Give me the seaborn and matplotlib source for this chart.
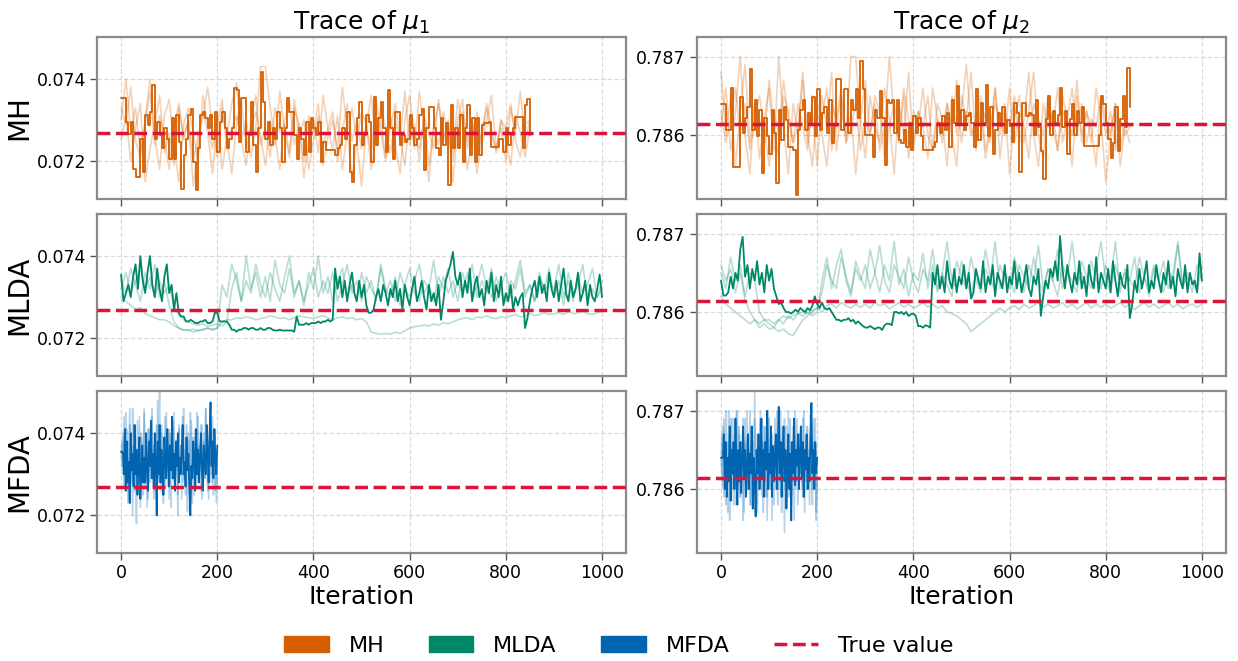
import numpy as np
import matplotlib
matplotlib.use("Agg")
import matplotlib.pyplot as plt
import seaborn as sns
from matplotlib.patches import Patch
from matplotlib.lines import Line2D

# ---------------- data (values in units of 1e-5) ----------------
UNIT = 1e-5
TRUE_MU1 = 7269
TRUE_MU2 = 78614

MH_STRIDE_MAIN, MH_STRIDE_FAINT = 5, 10
MLDA_STRIDE_MAIN, MLDA_STRIDE_FAINT = 5, 10
MFDA_STRIDE = 2

MH_MU1_MAIN = [
    7354, 7354, 7296, 7267, 7296, 7182, 7162, 7162, 7255, 7174, 7312, 7288, 7320, 7385, 7255, 7296, 7263, 7231, 7280, 7255,
    7206, 7304, 7206, 7312, 7247, 7133, 7215, 7255, 7312, 7328, 7198, 7129, 7231, 7312, 7320, 7304, 7280, 7312, 7255, 7320,
    7223, 7296, 7320, 7280, 7231, 7255, 7280, 7377, 7373, 7247, 7353, 7353, 7223, 7263, 7345, 7239, 7174, 7280, 7418, 7345,
    7255, 7296, 7239, 7280, 7255, 7320, 7280, 7198, 7280, 7353, 7320, 7320, 7263, 7206, 7280, 7255, 7215, 7296, 7223, 7304,
    7280, 7263, 7296, 7198, 7247, 7227, 7227, 7227, 7227, 7215, 7231, 7239, 7280, 7255, 7320, 7174, 7150, 7239, 7304, 7345,
    7239, 7263, 7312, 7296,
    7198, 7357, 7239, 7304, 7345, 7280, 7223, 7373, 7280, 7206, 7320, 7320, 7239, 7263, 7247, 7255, 7312, 7280, 7239, 7255,
    7312, 7328, 7178, 7280, 7333, 7333, 7280, 7231, 7215, 7304, 7239, 7292, 7141, 7337, 7231, 7280, 7231, 7312, 7198, 7280,
    7337, 7215, 7304, 7198, 7304, 7215, 7288, 7292, 7292, 7296, 7235, 7235, 7235, 7255, 7255, 7223, 7280, 7239, 7263, 7280,
    7308, 7308, 7308, 7231, 7337, 7351, 7263,
]
MH_MU1_FAINT_A = [
    7330, 7290, 7380, 7250, 7210, 7300, 7400, 7260, 7180, 7310, 7350, 7240, 7150, 7290, 7330, 7270, 7200, 7360, 7290, 7230,
    7310, 7180, 7260, 7340, 7390, 7250, 7300, 7210, 7280, 7430, 7430, 7330, 7260, 7180, 7300, 7350, 7240, 7290, 7200, 7310,
    7270, 7340, 7190, 7260, 7300, 7230, 7380, 7280, 7160, 7250, 7320, 7290, 7220, 7350, 7270, 7200, 7310, 7240, 7170, 7300,
    7360, 7260, 7230, 7310, 7190, 7280, 7340, 7250, 7300, 7220, 7350, 7290, 7180, 7260, 7320, 7240, 7300, 7360, 7230, 7280,
    7200, 7330, 7270, 7370, 7250, 7300,
]
MH_MU1_FAINT_B = [
    7250, 7310, 7200, 7280, 7340, 7150, 7230, 7290, 7360, 7220, 7270, 7190, 7330, 7260, 7300, 7140, 7240, 7310, 7380, 7280,
    7210, 7330, 7250, 7170, 7290, 7350, 7230, 7280, 7320, 7260, 7190, 7300, 7240, 7370, 7270, 7210, 7330, 7290, 7160, 7250,
    7300, 7220, 7360, 7280, 7230, 7310, 7180, 7270, 7330, 7250, 7140, 7290, 7360, 7240, 7300, 7210, 7280, 7340, 7260, 7190,
    7310, 7230, 7370, 7270, 7150, 7290, 7240, 7320, 7270, 7200, 7300, 7350, 7230, 7290, 7170, 7260, 7340, 7280, 7220, 7300,
    7250, 7190, 7310, 7270, 7210, 7280,
]
MH_MU1_FAINT_C = [
    7300, 7400, 7270, 7330, 7220, 7290, 7370, 7240, 7310, 7260, 7180, 7280, 7340, 7250, 7300, 7200, 7260, 7320, 7270, 7170,
    7290, 7350, 7230, 7280, 7310, 7250, 7190, 7300, 7360, 7240, 7280, 7210, 7330, 7270, 7290, 7220, 7350, 7260, 7300, 7180,
    7250, 7310, 7240, 7280, 7320, 7200, 7270, 7340, 7250, 7300, 7230, 7290, 7180, 7260, 7330, 7280, 7220, 7300, 7250, 7370,
    7240, 7290, 7200, 7310, 7270, 7230, 7350, 7260, 7290, 7150, 7280, 7320, 7250, 7300, 7210, 7270, 7330, 7260, 7230, 7300,
    7280, 7340, 7250, 7210, 7290, 7300,
]

MH_MU2_MAIN = [
    78640, 78640, 78606, 78606, 78660, 78559, 78559, 78559, 78649, 78602, 78621, 78636, 78684, 78606, 78645, 78598, 78632, 78551, 78621, 78598,
    78576, 78632, 78602, 78538, 78632, 78594, 78636, 78619, 78585, 78585, 78581, 78523, 78606, 78632, 78645, 78606, 78628, 78615, 78649, 78598,
    78658, 78606, 78628, 78636, 78602, 78645, 78589, 78611, 78672, 78672, 78606, 78658, 78658, 78602, 78645, 78632, 78658, 78621, 78694, 78658,
    78600, 78600, 78600, 78572, 78632, 78621, 78656, 78621, 78561, 78645, 78641, 78645, 78602, 78645, 78594, 78589, 78606, 78585, 78615, 78581,
    78624, 78602, 78621, 78598, 78581, 78581, 78581, 78581, 78585, 78591, 78615, 78602, 78624, 78606, 78628, 78585, 78645, 78615, 78662, 78615,
    78632, 78606, 78624, 78628, 78615, 78585, 78658, 78594, 78641, 78615, 78664, 78598, 78636, 78576, 78606, 78628, 78611, 78636, 78602, 78619,
    78611, 78591, 78641, 78628, 78553, 78641, 78641, 78624, 78628, 78625, 78600, 78645, 78610, 78580, 78544, 78620, 78650, 78600, 78630, 78615,
    78625, 78660, 78610, 78630, 78576, 78620, 78640, 78600, 78630, 78615, 78635, 78586, 78586, 78586, 78586, 78586, 78586, 78600, 78650, 78640,
    78615, 78595, 78570, 78590, 78635, 78580, 78620, 78650, 78610, 78685, 78635,
]
MH_MU2_FAINT_A = [
    78680, 78600, 78650, 78560, 78630, 78690, 78590, 78640, 78570, 78620, 78660, 78580, 78700, 78610, 78550, 78640, 78600, 78670, 78590, 78630,
    78560, 78650, 78610, 78680, 78580, 78630, 78600, 78700, 78700, 78620, 78570, 78650, 78610, 78590, 78660, 78620, 78550, 78640, 78600, 78680,
    78580, 78630, 78610, 78570, 78660, 78620, 78590, 78640, 78600, 78560, 78650, 78620, 78680, 78590, 78630, 78570, 78610, 78660, 78600, 78640,
    78550, 78620, 78650, 78590, 78630, 78680, 78600, 78570, 78640, 78610, 78660, 78590, 78620, 78560, 78650, 78600, 78630, 78590, 78660, 78620,
    78540, 78600, 78640, 78560, 78610, 78590,
]
MH_MU2_FAINT_B = [
    78610, 78660, 78580, 78630, 78700, 78600, 78550, 78640, 78620, 78590, 78670, 78610, 78570, 78650, 78630, 78590, 78610, 78680, 78600, 78560,
    78640, 78620, 78660, 78580, 78610, 78650, 78590, 78630, 78550, 78620, 78670, 78600, 78640, 78580, 78610, 78700, 78620, 78590, 78650, 78570,
    78630, 78610, 78660, 78600, 78580, 78640, 78620, 78560, 78650, 78600, 78630, 78690, 78610, 78580, 78640, 78620, 78590, 78660, 78570, 78630,
    78610, 78650, 78590, 78620, 78680, 78600, 78560, 78640, 78610, 78630, 78580, 78650, 78620, 78600, 78670, 78590, 78630, 78610, 78560, 78650,
    78620, 78600, 78640, 78580, 78620, 78610,
]
MH_MU2_FAINT_C = [
    78630, 78590, 78620, 78660, 78600, 78640, 78580, 78620, 78650, 78610, 78560, 78630, 78600, 78670, 78620, 78590, 78640, 78610, 78580, 78650,
    78630, 78600, 78560, 78640, 78620, 78660, 78590, 78610, 78640, 78580, 78620, 78600, 78650, 78630, 78570, 78610, 78640, 78600, 78660, 78620,
    78590, 78630, 78610, 78650, 78580, 78620, 78600, 78640, 78610, 78670, 78590, 78630, 78600, 78620, 78650, 78580, 78610, 78640, 78620, 78600,
    78660, 78590, 78630, 78610, 78570, 78640, 78620, 78600, 78650, 78610, 78580, 78630, 78620, 78660, 78600, 78640, 78590, 78620, 78610, 78650,
    78600, 78630, 78580, 78620, 78600, 78610,
]

MLDA_MU1_MAIN = [
    7355, 7290, 7310, 7330, 7300, 7350, 7380, 7320, 7400, 7340, 7310, 7360, 7400, 7330, 7300, 7370, 7320, 7290, 7350, 7380,
    7310, 7330, 7270, 7310, 7262, 7253, 7253, 7241, 7241, 7245, 7241, 7237, 7237, 7241, 7241, 7245, 7237, 7237, 7241, 7262,
    7262, 7241, 7241, 7241, 7241, 7233, 7221, 7221, 7216, 7221, 7221, 7225, 7225, 7221, 7225, 7225, 7221, 7221, 7225, 7221,
    7221, 7225, 7225, 7221, 7219, 7219, 7221, 7219, 7219, 7219, 7219, 7219, 7216, 7253, 7233, 7233, 7233, 7237, 7233, 7237,
    7237, 7237, 7241, 7237, 7241, 7241, 7245, 7241, 7245, 7370, 7320, 7350, 7300, 7340, 7290, 7330, 7360, 7310, 7290, 7340,
    7300, 7330, 7280, 7262, 7262, 7270, 7300, 7320, 7290, 7330, 7310, 7280, 7320, 7300, 7340, 7290, 7320, 7270, 7330, 7300,
    7280, 7320, 7350, 7290, 7310, 7340, 7300, 7270, 7330, 7290, 7310, 7280, 7330, 7245, 7290, 7340, 7360, 7380, 7410, 7350,
    7330, 7360, 7300, 7340, 7310, 7370, 7290, 7330, 7350, 7300, 7320, 7280, 7340, 7310, 7360, 7290, 7330, 7300, 7350, 7280,
    7310, 7290, 7330, 7270, 7300, 7280, 7300, 7310, 7225, 7250, 7290, 7320, 7340, 7300, 7350, 7310, 7330, 7290, 7360, 7320,
    7300, 7340, 7290, 7330, 7370, 7310, 7290, 7340, 7300, 7320, 7360, 7290, 7310, 7340, 7280, 7330, 7300, 7290, 7320, 7355, 7300,
]
MLDA_MU1_FAINT_A = [
    7340, 7310, 7370, 7330, 7290, 7360, 7320, 7380, 7300, 7340,
    7280, 7240, 7225, 7220, 7220, 7215, 7220, 7220, 7225, 7220,
    7225, 7330, 7300, 7380, 7340, 7290, 7400, 7320, 7360, 7300,
    7350, 7290, 7390, 7330, 7310, 7370, 7300, 7340, 7280, 7360,
    7320, 7400, 7310, 7350, 7290, 7340, 7370, 7300, 7330, 7290,
    7360, 7310, 7340, 7290, 7380, 7320, 7300, 7350, 7280, 7330,
    7370, 7310, 7290, 7340, 7320, 7390, 7300, 7350, 7310, 7340,
    7290, 7360, 7320, 7380, 7300, 7340, 7310, 7370, 7290, 7330,
    7360, 7300, 7340, 7390, 7310, 7330, 7290, 7350, 7320, 7370,
    7300, 7340, 7280, 7360, 7310, 7330, 7380, 7290, 7320, 7300, 7340,
]
MLDA_MU1_FAINT_B = [
    7300, 7290, 7280, 7270, 7275, 7260, 7255, 7250, 7245, 7245,
    7240, 7230, 7225, 7220, 7220, 7222, 7218, 7222, 7225, 7222,
    7225, 7240, 7245, 7245, 7250, 7248, 7252, 7250, 7245, 7248,
    7250, 7255, 7252, 7248, 7250, 7245, 7250, 7255, 7252, 7250,
    7248, 7252, 7255, 7250, 7245, 7250, 7252, 7248, 7250, 7245,
    7248, 7240, 7215, 7212, 7210, 7212, 7210, 7215, 7212, 7218,
    7225, 7228, 7230, 7232, 7230, 7235, 7232, 7238, 7235, 7240,
    7245, 7248, 7250, 7245, 7252, 7250, 7255, 7250, 7248, 7252,
    7250, 7255, 7258, 7252, 7255, 7260, 7255, 7258, 7262, 7258,
    7260, 7262, 7258, 7265, 7260, 7262, 7265, 7260, 7258, 7262, 7265,
]
MLDA_MU1_FAINT_C = [
    7320, 7360, 7310, 7340, 7370, 7320, 7350, 7300, 7340, 7310,
    7330, 7280, 7255, 7245, 7240, 7235, 7232, 7235, 7230, 7232,
    7235, 7230, 7240, 7320, 7360, 7290, 7340, 7310, 7380, 7330,
    7300, 7360, 7320, 7290, 7350, 7400, 7310, 7340, 7290, 7330,
    7370, 7300, 7340, 7310, 7360, 7290, 7330, 7380, 7310, 7340,
    7290, 7350, 7320, 7300, 7370, 7310, 7340, 7290, 7360, 7320,
    7300, 7340, 7380, 7310, 7330, 7290, 7350, 7320, 7370, 7300,
    7340, 7310, 7360, 7290, 7330, 7380, 7320, 7300, 7350, 7310,
    7290, 7340, 7320, 7370, 7300, 7330, 7290, 7360, 7310, 7340,
    7320, 7380, 7300, 7340, 7290, 7350, 7310, 7330, 7370, 7300, 7320,
]

MLDA_MU2_MAIN = [
    78640, 78621, 78621, 78625, 78645, 78630, 78650, 78640, 78680, 78696, 78645, 78660, 78630, 78655, 78640, 78665, 78635, 78650, 78625, 78660,
    78640, 78655, 78630, 78620, 78610, 78612, 78605, 78600, 78600, 78598, 78600, 78603, 78600, 78605, 78602, 78600, 78605, 78602, 78608, 78620,
    78610, 78605, 78612, 78605, 78603, 78605, 78600, 78595, 78590, 78590, 78588, 78590, 78590, 78592, 78588, 78590, 78585, 78588, 78585, 78582,
    78580, 78580, 78582, 78580, 78578, 78580, 78580, 78577, 78583, 78585, 78585, 78583, 78600, 78600, 78598, 78600, 78597, 78600, 78595, 78597,
    78598, 78595, 78582, 78582, 78580, 78583, 78582, 78580, 78650, 78635, 78660, 78630, 78645, 78625, 78665, 78640, 78630, 78655, 78625, 78645,
    78635, 78660, 78630, 78650, 78617, 78625, 78655, 78640, 78630, 78665, 78625, 78645, 78635, 78660, 78620, 78650, 78640, 78630, 78660, 78625,
    78645, 78635, 78665, 78630, 78650, 78625, 78640, 78660, 78630, 78620, 78645, 78635, 78655, 78595, 78620, 78640, 78630, 78655, 78645, 78665,
    78640, 78697, 78655, 78630, 78660, 78640, 78625, 78650, 78635, 78665, 78630, 78645, 78620, 78660, 78640, 78630, 78670, 78625, 78650, 78640,
    78630, 78655, 78625, 78665, 78640, 78620, 78650, 78635, 78630, 78660, 78592, 78610, 78640, 78625, 78655, 78630, 78645, 78665, 78625, 78640,
    78630, 78660, 78640, 78625, 78650, 78635, 78665, 78630, 78645, 78620, 78655, 78640, 78630, 78660, 78625, 78650, 78635, 78640, 78625, 78675, 78640,
]
MLDA_MU2_FAINT_A = [
    78650, 78630, 78670, 78640, 78660, 78620, 78650, 78640, 78600, 78590,
    78585, 78580, 78590, 78585, 78595, 78590, 78598, 78595, 78600, 78595,
    78600, 78640, 78670, 78630, 78660, 78680, 78640, 78620, 78665, 78645,
    78630, 78680, 78650, 78625, 78660, 78640, 78690, 78635, 78655, 78620,
    78650, 78640, 78675, 78630, 78660, 78625, 78650, 78690, 78640, 78630,
    78665, 78640, 78620, 78655, 78635, 78680, 78645, 78625, 78660, 78640,
    78630, 78670, 78645, 78625, 78660, 78640, 78685, 78630, 78655, 78640,
    78620, 78660, 78645, 78690, 78635, 78650, 78625, 78665, 78640, 78630,
    78660, 78640, 78690, 78625, 78655, 78640, 78630, 78670, 78645, 78620,
    78655, 78640, 78665, 78630, 78650, 78690, 78635, 78645, 78625, 78660, 78640,
]
MLDA_MU2_FAINT_B = [
    78620, 78610, 78605, 78600, 78595, 78590, 78585, 78590, 78580, 78585,
    78578, 78580, 78575, 78578, 78572, 78570, 78580, 78590, 78595, 78600,
    78605, 78600, 78608, 78610, 78605, 78612, 78608, 78605, 78610, 78606,
    78610, 78605, 78612, 78608, 78610, 78604, 78608, 78612, 78606, 78610,
    78605, 78608, 78612, 78606, 78610, 78605, 78608, 78600, 78598, 78595,
    78590, 78585, 78575, 78580, 78585, 78590, 78595, 78600, 78605, 78600,
    78605, 78608, 78603, 78610, 78605, 78608, 78612, 78606, 78610, 78605,
    78608, 78612, 78606, 78610, 78604, 78608, 78612, 78605, 78610, 78606,
    78610, 78605, 78608, 78612, 78606, 78610, 78603, 78608, 78612, 78606,
    78610, 78605, 78608, 78612, 78606, 78610, 78604, 78608, 78610, 78606, 78610,
]
MLDA_MU2_FAINT_C = [
    78660, 78640, 78655, 78625, 78650, 78615, 78600, 78590, 78585, 78590,
    78590, 78585, 78590, 78595, 78592, 78596, 78598, 78600, 78598, 78602,
    78605, 78625, 78660, 78640, 78630, 78670, 78645, 78625, 78655, 78640,
    78660, 78630, 78650, 78685, 78640, 78625, 78660, 78645, 78630, 78670,
    78640, 78625, 78655, 78640, 78680, 78630, 78650, 78635, 78620, 78665,
    78645, 78630, 78670, 78640, 78625, 78655, 78640, 78690, 78630, 78650,
    78640, 78625, 78660, 78645, 78630, 78670, 78640, 78625, 78655, 78640,
    78680, 78630, 78650, 78640, 78625, 78665, 78645, 78630, 78655, 78690,
    78640, 78625, 78660, 78635, 78650, 78640, 78670, 78625, 78645, 78630,
    78660, 78640, 78625, 78655, 78640, 78685, 78630, 78650, 78640, 78625, 78660,
]

MFDA_MU1_MAIN = [
    7355, 7355, 7350, 7300, 7410, 7260, 7380, 7280, 7330, 7230, 7400, 7310, 7350, 7270, 7420, 7300, 7360, 7250, 7330, 7390,
    7240, 7300, 7370, 7280, 7340, 7280, 7400, 7310, 7260, 7380, 7320, 7430, 7290, 7350, 7270, 7400, 7330, 7200, 7380, 7300,
    7420, 7280, 7360, 7310, 7250, 7390, 7330, 7290, 7410, 7340, 7270, 7370, 7310, 7440, 7290, 7350, 7260, 7380, 7320, 7400,
    7280, 7340, 7300, 7360, 7420, 7300, 7330, 7270, 7390, 7310, 7350, 7260, 7200, 7320, 7290, 7380, 7340, 7260, 7410, 7300,
    7360, 7280, 7340, 7400, 7310, 7260, 7370, 7330, 7300, 7420, 7350, 7280, 7400, 7475, 7320, 7380, 7290, 7410, 7340, 7300, 7370,
]
MFDA_MU1_FAINT_A = [
    7355, 7380, 7300, 7440, 7260, 7350, 7410, 7230, 7330, 7460, 7290, 7370, 7200, 7340, 7420, 7280, 7180, 7360, 7310, 7440,
    7270, 7390, 7330, 7250, 7450, 7300, 7360, 7220, 7410, 7340, 7280, 7380, 7460, 7310, 7240, 7370, 7330, 7420, 7290, 7350,
    7500, 7260, 7400, 7320, 7230, 7380, 7440, 7300, 7350, 7270, 7410, 7340, 7220, 7390, 7310, 7450, 7280, 7360, 7330, 7250,
    7420, 7300, 7370, 7240, 7340, 7460, 7290, 7380, 7320, 7210, 7400, 7350, 7270, 7430, 7310, 7360, 7250, 7390, 7330, 7450,
    7280, 7370, 7310, 7420, 7240, 7350, 7400, 7290, 7460, 7330, 7260, 7380, 7320, 7440, 7300, 7360, 7250, 7410, 7340, 7230, 7330,
]
MFDA_MU1_FAINT_B = [
    7355, 7320, 7400, 7270, 7350, 7450, 7300, 7380, 7240, 7420, 7330, 7280, 7460, 7350, 7260, 7390, 7310, 7430, 7280, 7360,
    7220, 7400, 7340, 7300, 7460, 7270, 7380, 7330, 7240, 7410, 7350, 7290, 7440, 7310, 7370, 7260, 7400, 7320, 7480, 7280,
    7360, 7300, 7420, 7250, 7380, 7330, 7270, 7450, 7310, 7360, 7240, 7400, 7340, 7290, 7430, 7320, 7260, 7380, 7350, 7200,
    7410, 7300, 7370, 7330, 7440, 7280, 7360, 7250, 7420, 7310, 7380, 7290, 7450, 7340, 7230, 7390, 7320, 7410, 7270, 7360,
    7440, 7300, 7350, 7260, 7420, 7330, 7380, 7290, 7460, 7310, 7360, 7240, 7400, 7330, 7280, 7440, 7320, 7370, 7260, 7300, 7280,
]

MFDA_MU2_MAIN = [
    78640, 78640, 78640, 78670, 78600, 78660, 78590, 78640, 78610, 78680, 78585, 78650, 78620, 78660, 78600, 78690, 78630, 78580, 78650, 78610,
    78660, 78595, 78640, 78680, 78615, 78650, 78590, 78630, 78670, 78600, 78645, 78620, 78680, 78575, 78640, 78610, 78565, 78650, 78620, 78670,
    78600, 78640, 78690, 78615, 78650, 78590, 78660, 78625, 78700, 78600, 78645, 78620, 78680, 78590, 78655, 78610, 78640, 78670, 78600, 78650,
    78705, 78620, 78660, 78590, 78640, 78680, 78610, 78650, 78575, 78630, 78670, 78600, 78645, 78560, 78660, 78620, 78690, 78605, 78650, 78630,
    78670, 78600, 78640, 78680, 78615, 78660, 78590, 78650, 78625, 78670, 78600, 78640, 78610, 78660, 78710, 78620, 78650, 78600, 78660, 78620, 78640,
]
MFDA_MU2_FAINT_A = [
    78640, 78670, 78600, 78690, 78620, 78580, 78660, 78610, 78700, 78560, 78650, 78630, 78690, 78600, 78660, 78580, 78640, 78700, 78610, 78670,
    78590, 78650, 78625, 78690, 78570, 78660, 78620, 78700, 78600, 78650, 78580, 78680, 78620, 78660, 78600, 78725, 78630, 78580, 78670, 78610,
    78650, 78690, 78600, 78640, 78570, 78680, 78620, 78660, 78590, 78700, 78630, 78600, 78670, 78560, 78650, 78620, 78690, 78600, 78640, 78580,
    78670, 78610, 78700, 78630, 78590, 78660, 78545, 78640, 78680, 78600, 78650, 78620, 78690, 78570, 78660, 78610, 78640, 78700, 78600, 78650,
    78580, 78670, 78620, 78660, 78600, 78690, 78630, 78570, 78650, 78610, 78680, 78600, 78640, 78700, 78620, 78580, 78660, 78610, 78690, 78560, 78620,
]
MFDA_MU2_FAINT_B = [
    78640, 78610, 78680, 78590, 78650, 78700, 78620, 78570, 78660, 78630, 78690, 78600, 78650, 78580, 78670, 78620, 78700, 78600, 78640, 78680,
    78590, 78660, 78610, 78560, 78650, 78690, 78620, 78600, 78670, 78630, 78700, 78580, 78640, 78660, 78610, 78690, 78600, 78650, 78570, 78670,
    78620, 78700, 78640, 78590, 78660, 78610, 78680, 78630, 78560, 78650, 78690, 78600, 78640, 78670, 78610, 78580, 78660, 78620, 78700, 78640,
    78600, 78680, 78620, 78570, 78660, 78640, 78690, 78600, 78650, 78610, 78700, 78590, 78640, 78660, 78620, 78680, 78560, 78650, 78610, 78690,
    78630, 78600, 78670, 78620, 78660, 78590, 78700, 78640, 78610, 78680, 78620, 78650, 78580, 78670, 78640, 78600, 78690, 78620, 78650, 78570, 78610,
]

METHODS = ["MH", "MLDA", "MFDA"]
PARAMS = [r"Trace of $\mu_1$", r"Trace of $\mu_2$"]
COLORS = {"MH": "#d55e00", "MLDA": "#008767", "MFDA": "#0064b0"}
TRUE_COLOR = "crimson"
X_TICKS = [0, 200, 400, 600, 800, 1000]
Y_TICKS = [[0.072, 0.074], [0.786, 0.787]]
Y_TICK_LABELS = [["0.072", "0.074"], ["0.786", "0.787"]]
YLIMS = [(0.07108, 0.07502), (0.78518, 0.78725)]

PANELS = {
    ("MH", 0): (MH_MU1_MAIN, [MH_MU1_FAINT_A, MH_MU1_FAINT_B, MH_MU1_FAINT_C], MH_STRIDE_MAIN, MH_STRIDE_FAINT),
    ("MH", 1): (MH_MU2_MAIN, [MH_MU2_FAINT_A, MH_MU2_FAINT_B, MH_MU2_FAINT_C], MH_STRIDE_MAIN, MH_STRIDE_FAINT),
    ("MLDA", 0): (MLDA_MU1_MAIN, [MLDA_MU1_FAINT_A, MLDA_MU1_FAINT_B, MLDA_MU1_FAINT_C], MLDA_STRIDE_MAIN, MLDA_STRIDE_FAINT),
    ("MLDA", 1): (MLDA_MU2_MAIN, [MLDA_MU2_FAINT_A, MLDA_MU2_FAINT_B, MLDA_MU2_FAINT_C], MLDA_STRIDE_MAIN, MLDA_STRIDE_FAINT),
    ("MFDA", 0): (MFDA_MU1_MAIN, [MFDA_MU1_FAINT_A, MFDA_MU1_FAINT_B], MFDA_STRIDE, MFDA_STRIDE),
    ("MFDA", 1): (MFDA_MU2_MAIN, [MFDA_MU2_FAINT_A, MFDA_MU2_FAINT_B], MFDA_STRIDE, MFDA_STRIDE),
}
TRUE_VALUES = [TRUE_MU1, TRUE_MU2]

# ---------------- plotting ----------------
sns.set_theme(style="whitegrid")
plt.rcParams["font.family"] = ["DejaVu Sans"]
plt.rcParams["mathtext.fontset"] = "dejavusans"
plt.rcParams["text.color"] = "black"
plt.rcParams["axes.labelcolor"] = "black"
plt.rcParams["xtick.labelcolor"] = "black"
plt.rcParams["ytick.labelcolor"] = "black"

fig, axes = plt.subplots(3, 2, figsize=(12.38, 6.61), dpi=100, sharex=True)
fig.subplots_adjust(left=0.0784, right=0.9903, top=0.944, bottom=0.163,
                    wspace=0.134, hspace=0.093)

for r, method in enumerate(METHODS):
    for c in range(2):
        ax = axes[r, c]
        main, faints, s_main, s_faint = PANELS[(method, c)]
        color = COLORS[method]
        main_style = "steps-post" if method == "MH" else "default"
        for f in faints:
            xs = np.arange(len(f)) * s_faint
            sns.lineplot(x=xs, y=np.array(f) * UNIT, ax=ax, color=color, alpha=0.28,
                         lw=1.2, estimator=None, legend=False)
        xs = np.arange(len(main)) * s_main
        sns.lineplot(x=xs, y=np.array(main) * UNIT, ax=ax, color=color, alpha=1.0,
                     lw=1.3, drawstyle=main_style, estimator=None, legend=False)
        ax.axhline(TRUE_VALUES[c] * UNIT, color=TRUE_COLOR, ls="--", lw=2.5, zorder=5)

        ax.set_xlim(-50, 1050)
        ax.set_ylim(*YLIMS[c])
        ax.set_xticks(X_TICKS)
        ax.set_yticks(Y_TICKS[c])
        ax.set_yticklabels(Y_TICK_LABELS[c])
        ax.grid(True, ls="--", color="#d9d9d9", lw=0.9)
        ax.set_facecolor("white")
        for sp in ax.spines.values():
            sp.set_color("#8a8a8a")
            sp.set_linewidth(1.6)
        ax.tick_params(axis="both", which="major", direction="out", length=5, width=1.0,
                       color="#555555", labelsize=12.5, left=True, bottom=True, pad=3)
        ax.set_xlabel("")
        ax.set_ylabel("")
        if c == 0:
            ax.set_ylabel(method, fontsize=20, labelpad=2)
        if r == 0:
            ax.set_title(PARAMS[c], fontsize=18, pad=6)
        if r == 2:
            ax.set_xlabel("Iteration", fontsize=18, labelpad=2)

handles = [Patch(facecolor=COLORS[m], edgecolor=COLORS[m]) for m in METHODS]
handles.append(Line2D([], [], color=TRUE_COLOR, ls="--", lw=2.5))
labels = METHODS + ["True value"]
fig.legend(handles, labels, loc="lower center", bbox_to_anchor=(0.5, -0.022), ncol=4,
           frameon=False, fontsize=16, handlelength=2.0, handletextpad=0.9,
           columnspacing=2.0)

fig.savefig("out.png", dpi=100)
